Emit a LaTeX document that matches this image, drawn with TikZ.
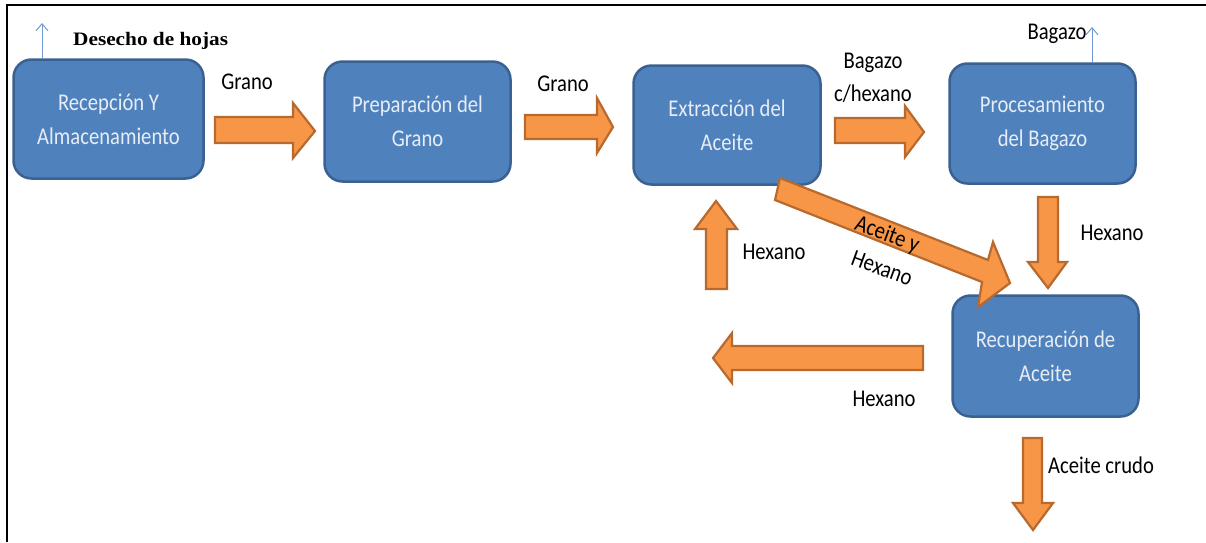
\documentclass[tikz,border=0pt]{standalone}
\usepackage{fontspec}
\setmainfont{Carlito}
\newfontfamily\boxfont{Carlito}[FakeStretch=0.86]
\newfontfamily\timesfont{Liberation Serif}[FakeStretch=1.12]
\usetikzlibrary{arrows.meta}
\definecolor{boxfill}{HTML}{4F81BD}
\definecolor{boxline}{HTML}{3A6191}
\definecolor{boxtext}{HTML}{E6EDF6}
\definecolor{arrfill}{HTML}{F79646}
\definecolor{arrline}{HTML}{B8692E}
\definecolor{thinblue}{HTML}{6F9AD0}
\begin{document}
\begin{tikzpicture}[x=1pt,y=-1pt,
 proc/.style={draw=boxline, fill=boxfill, line width=2.5pt, rounded corners=18pt,
   text=boxtext, font=\boxfont\fontsize{24}{34}\selectfont, align=center, inner sep=0pt},
 blockarrow/.style={draw=arrline, fill=arrfill, line width=2.2pt, line join=miter},
 lbl/.style={font=\boxfont\fontsize{24}{33}\selectfont, text=black, inner sep=0pt, align=center},
 thinarrow/.style={draw=thinblue, line width=1pt, -{Straight Barb[length=7pt,width=12pt]}}
]
\useasboundingbox (0,0) rectangle (1206,542);
\fill[white] (0,0) rectangle (1206,542);
\draw[line width=2.5pt] (7,542) -- (7,5) -- (1206,5);

% process boxes
\node[proc, minimum width=190pt, minimum height=119pt] (rec) at (108.5,119) {Recepción Y\\Almacenamiento};
\node[proc, minimum width=186pt, minimum height=120pt] (prep) at (417.5,121.5) {Preparación del\\Grano};
\node[proc, minimum width=187pt, minimum height=119pt] (ext) at (727,125) {Extracción del\\Aceite};
\node[proc, minimum width=186pt, minimum height=120pt] (proc) at (1042.5,123.5) {Procesamiento\\del Bagazo};
\node[proc, minimum width=186pt, minimum height=121pt] (recu) at (1045.5,356) {Recuperación de\\Aceite};

% block arrows
\draw[blockarrow] (215,117) -- (293,117) -- (293,103) -- (315,131) -- (293,158) -- (293,143) -- (215,143) -- cycle;
\draw[blockarrow] (525,115) -- (597,115) -- (597,98) -- (613,127) -- (597,153) -- (597,139) -- (525,139) -- cycle;
\draw[blockarrow] (835,118) -- (905,118) -- (905,106) -- (924,132) -- (905,157) -- (905,143) -- (835,143) -- cycle;
\draw[blockarrow] (706,289) -- (706,229) -- (695,229) -- (716,201) -- (737,229) -- (727,229) -- (727,289) -- cycle;
\draw[blockarrow] (1038,197) -- (1038,262) -- (1028,262) -- (1048,288) -- (1067,262) -- (1058,262) -- (1058,197) -- cycle;
\draw[blockarrow] (780,178) -- (988,260) -- (993,242) -- (1010,283) -- (978,307) -- (982,282) -- (775,200) -- cycle;
\draw[blockarrow] (923,346) -- (732,346) -- (732,333) -- (713,358) -- (732,383) -- (732,370) -- (923,370) -- cycle;
\draw[blockarrow] (1023,438) -- (1023,503) -- (1013,503) -- (1033,530) -- (1053,503) -- (1042,503) -- (1042,438) -- cycle;

% thin outflow arrows
\coordinate (desecho) at (42,23);
\coordinate (bagazoout) at (1092,27);
\draw[thinarrow] (rec.north -| desecho) -- (desecho);
\draw[thinarrow] (proc.north -| bagazoout) -- (bagazoout);

% labels
\node[font=\timesfont\bfseries\fontsize{19}{22}\selectfont, anchor=west, inner sep=0pt] (lh) at (73,41) {Desecho de hojas};
\node[lbl] (g1) at (247,82) {Grano};
\node[lbl] (g2) at (563,84) {Grano};
\node[lbl] (bh) at (873,78) {Bagazo\\c/hexano};
\node[lbl] (bg) at (1057,34) {Bagazo};
\node[lbl] (h1) at (774,252) {Hexano};
\node[lbl] (h2) at (1112,233) {Hexano};
\node[lbl] (h3) at (884,399) {Hexano};
\node[lbl] (ac) at (1101,465) {Aceite crudo};
\node[lbl, rotate=-20] (ay) at (887,235) {Aceite y};
\node[lbl, rotate=-20] (ah) at (882,268) {Hexano};
\end{tikzpicture}
\end{document}
